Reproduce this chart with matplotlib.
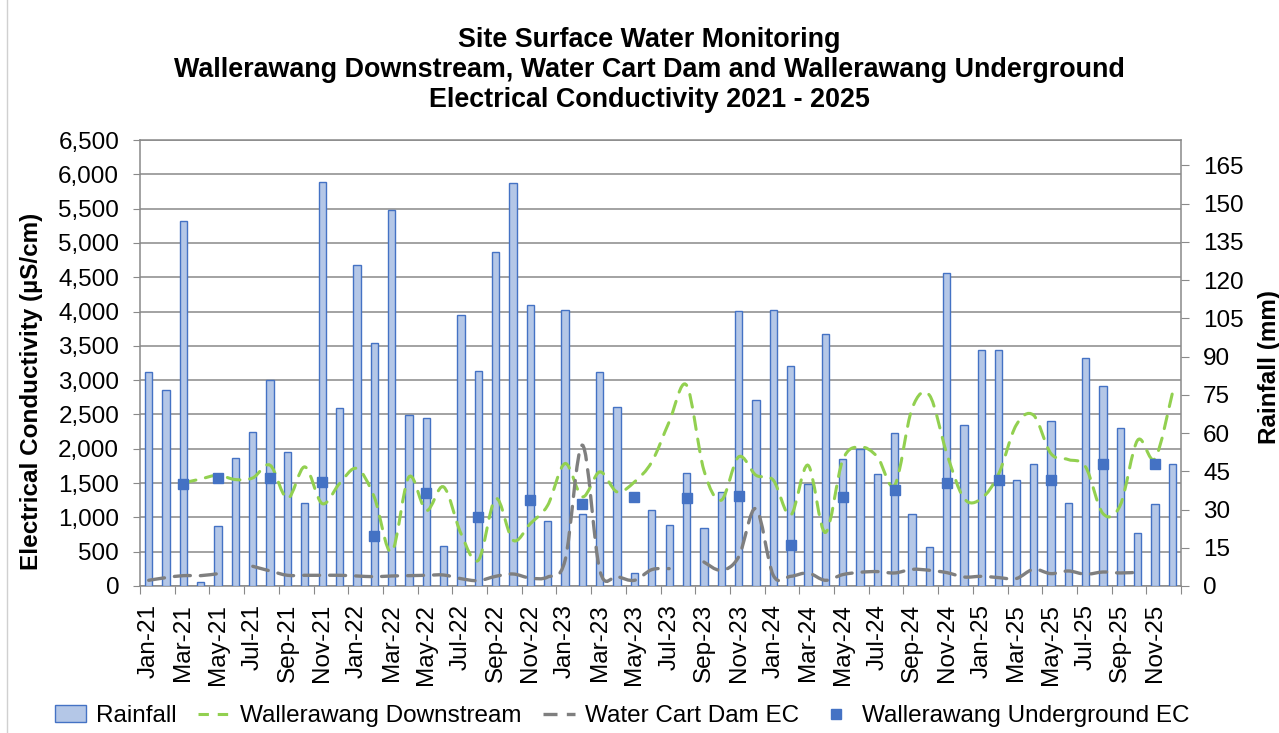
import numpy as np
import pandas as pd
import matplotlib.pyplot as plt
from matplotlib.path import Path
from matplotlib.patches import PathPatch, Patch
from matplotlib.lines import Line2D

plt.rcParams['font.family'] = ['Liberation Sans', 'DejaVu Sans']

nan = np.nan

# Monthly categories Jan-21 .. Dec-25
months = pd.date_range('2021-01-01', periods=60, freq='MS').strftime('%b-%y').tolist()

# Rainfall (mm), right axis
rainfall = [84.0, 76.8, 143.3, 1.6, 23.4, 50.1, 60.6, 80.9, 52.6, 32.7, 158.6, 70.0,
            125.9, 95.4, 147.4, 67.1, 66.0, 15.7, 106.4, 84.5, 131.1, 158.0, 110.1, 25.5,
            108.4, 28.3, 83.8, 70.4, 5.1, 30.0, 23.8, 44.5, 22.6, 36.8, 108.0, 72.8,
            108.4, 86.5, 40.0, 98.7, 49.7, 53.8, 44.1, 60.2, 28.3, 15.4, 122.9, 63.2,
            92.7, 92.7, 41.6, 47.8, 64.8, 32.7, 89.5, 78.5, 61.9, 20.9, 32.3, 47.8]

# Wallerawang Downstream EC (uS/cm)
downstream = [nan, nan, 1502, 1560, 1614, 1551, 1575, 1760, 1274, 1736, 1201, 1493,
              1712, 1298, 496, 1590, 1100, 1444, 764, 375, 1274, 667, 910, 1177,
              1785, 1300, 1663, 1371, 1517, 1809, 2392, 2927, 1688, 1250, 1882, 1615,
              1542, 1031, 1760, 780, 1833, 2027, 1882, 1469, 2587, 2781, 1931, 1275,
              1275, 1639, 2344, 2490, 1931, 1843, 1736, 1056, 1177, 2125, 1858, 2806]

# Water Cart Dam EC (uS/cm)
water_cart = [83, 122, 151, 151, 180, nan, 287, 219, 156, 156, 156, 156,
              146, 136, 146, 151, 156, 160, 107, 78, 141, 175, 115, 131,
              374, 2052, 229, 141, 83, 239, 253, nan, 350, 229, 423, 1129,
              156, 141, 190, 83, 166, 200, 210, 190, 243, 229, 195, 131,
              141, 122, 108, 243, 180, 219, 171, 204, 190, 200, nan, nan]

# Wallerawang Underground EC (uS/cm), quarterly samples
underground = [nan, nan, 1493, nan, 1580, nan, nan, 1575, nan, nan, 1517, nan,
               nan, 724, nan, nan, 1357, nan, nan, 1006, nan, nan, 1250, nan,
               nan, 1191, nan, nan, 1298, nan, nan, 1284, nan, nan, 1313, nan,
               nan, 594, nan, nan, 1298, nan, nan, 1396, nan, nan, 1502, nan,
               nan, 1551, nan, nan, 1551, nan, nan, 1785, nan, nan, 1785, nan]

x = np.arange(len(months))

GRID = '#898989'
BAR_FACE = '#B4C7E7'
BAR_EDGE = '#4472C4'
GREEN = '#92D050'
GREY = '#7F7F7F'
BLUE = '#4472C4'
GREEN_DASH = (0, (4.2, 3.2))
GREY_DASH = (0, (4.8, 3.0))


def smooth_path(xs, ys):
    # Catmull-Rom style bezier through the points (like Excel's smoothed line)
    verts, codes = [], []
    xs = np.asarray(xs, float)
    ys = np.asarray(ys, float)
    ok = np.isfinite(ys)
    runs, cur = [], []
    for i in range(len(xs)):
        if ok[i]:
            cur.append((xs[i], ys[i]))
        elif cur:
            runs.append(cur)
            cur = []
    if cur:
        runs.append(cur)
    for pts in runs:
        pts = np.array(pts)
        n = len(pts)
        if n < 2:
            continue
        verts.append(pts[0])
        codes.append(Path.MOVETO)
        for k in range(n - 1):
            p0 = pts[k - 1] if k > 0 else pts[k]
            p1, p2 = pts[k], pts[k + 1]
            p3 = pts[k + 2] if k + 2 < n else pts[k + 1]
            verts += [p1 + (p2 - p0) / 6, p2 - (p3 - p1) / 6, p2]
            codes += [Path.CURVE4] * 3
    return Path(verts, codes)


fig = plt.figure(figsize=(12.79, 7.33), dpi=100)
ax = fig.add_axes([140 / 1279, 1 - 586 / 733, 1041 / 1279, 446 / 733])
ax2 = ax.twinx()
ax3 = ax.twinx()

# left axis: EC, gridlines
ax.set_ylim(0, 6500)
ax.set_yticks(np.arange(0, 6501, 500))
ax.yaxis.set_major_formatter(plt.FuncFormatter(lambda v, p: f'{int(v):,}'))
ax.grid(axis='y', color=GRID, linewidth=1.1)
ax.set_axisbelow(True)
ax.set_xlim(-0.5, len(months) - 0.5)
ax.set_xticks(np.arange(-0.5, len(months), 2))
ax.set_xticklabels([])
ax.set_xticks(x[::2], minor=True)
ax.set_xticklabels(months[::2], minor=True, rotation=90, fontsize=17.5)
ax.tick_params(axis='x', which='major', length=6, color=GRID)
ax.tick_params(axis='x', which='minor', length=0, pad=13)
ax.tick_params(axis='y', labelsize=17.5, length=5, color=GRID, pad=10)
for s in ['left', 'bottom', 'top']:
    ax.spines[s].set_color(GRID)
    ax.spines[s].set_linewidth(1.1)
ax.spines['right'].set_visible(False)
ax.set_ylabel('Electrical Conductivity (µS/cm)', fontsize=17.5, fontweight='bold')
ax.yaxis.set_label_coords(-0.0932, 0.437)

# right axis: rainfall bars
ax2.bar(x, rainfall, width=0.42, color=BAR_FACE, edgecolor=BAR_EDGE, linewidth=1)
ax2.set_ylim(0, 175)
ax2.set_yticks(np.arange(0, 166, 15))
ax2.tick_params(axis='y', labelsize=17.5, length=6, color=GRID, pad=10)
for s in ['left', 'bottom', 'top']:
    ax2.spines[s].set_visible(False)
ax2.spines['right'].set_color(GRID)
ax2.spines['right'].set_linewidth(1.1)
ax2.set_ylabel('Rainfall (mm)', fontsize=17.5, fontweight='bold')
ax2.yaxis.set_label_coords(1.074, 0.491)

# top layer: EC lines and markers on the left-axis scale
ax3.set_ylim(0, 6500)
ax3.axis('off')
ax3.add_patch(PathPatch(smooth_path(x, downstream), fill=False, edgecolor=GREEN,
                        linewidth=2.2, linestyle=GREEN_DASH, capstyle='round'))
ax3.add_patch(PathPatch(smooth_path(x, water_cart), fill=False, edgecolor=GREY,
                        linewidth=2.4, linestyle=GREY_DASH, capstyle='round'))
ax3.plot(x, underground, linestyle='none', marker='s', markersize=7.5,
         color=BLUE, markeredgecolor=BLUE)

fig.text(649 / 1279, 1 - 27 / 733,
         'Site Surface Water Monitoring\n'
         'Wallerawang Downstream, Water Cart Dam and Wallerawang Underground\n'
         'Electrical Conductivity 2021 - 2025',
         ha='center', va='top', fontsize=19.4, fontweight='bold', linespacing=1.2)

handles = [Patch(facecolor=BAR_FACE, edgecolor=BAR_EDGE, linewidth=1),
           Line2D([], [], color=GREEN, linewidth=2.2, linestyle=(0, (3.4, 2.9))),
           Line2D([], [], color=GREY, linewidth=2.4, linestyle=(0, (4.2, 2.8))),
           Line2D([], [], color=BLUE, linestyle='none', marker='s', markersize=7)]
labels = ['Rainfall', 'Wallerawang Downstream', 'Water Cart Dam EC', 'Wallerawang Underground EC']
fig.legend(handles, labels, loc='center', bbox_to_anchor=(622 / 1279, 17 / 733), ncol=4,
           frameon=False, fontsize=17.5, handlelength=1.3, handletextpad=0.4,
           columnspacing=0.9, borderaxespad=0)

fig.add_artist(Line2D([7 / 1279, 7 / 1279], [0, 1], transform=fig.transFigure,
                      color='#D0D0D0', linewidth=1))

fig.savefig('out.png', dpi=100)
